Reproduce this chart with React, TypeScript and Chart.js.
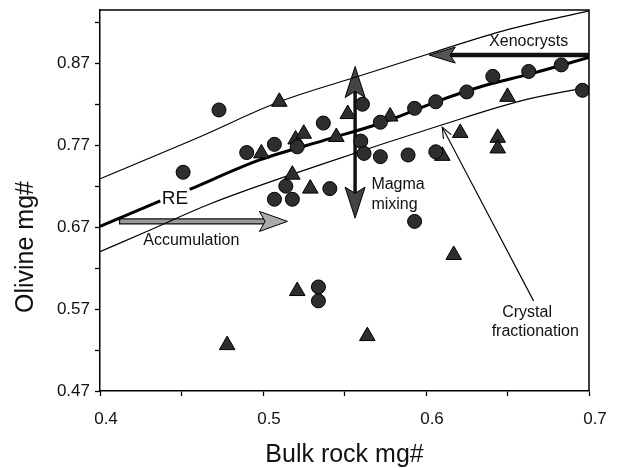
import React, { useEffect, useRef } from 'react';
import { Chart, registerables } from 'chart.js';
Chart.register(...registerables);

// ---- data ----
const circleBulk = [0.473, 0.451, 0.490, 0.507, 0.521, 0.537, 0.507, 0.514, 0.518, 0.541, 0.534, 0.534, 0.561, 0.572, 0.560, 0.562, 0.572, 0.589, 0.606, 0.593, 0.606, 0.625, 0.641, 0.663, 0.683, 0.696, 0.593];
const circleOlivine = [0.813, 0.737, 0.761, 0.771, 0.768, 0.797, 0.704, 0.720, 0.704, 0.717, 0.597, 0.580, 0.820, 0.798, 0.775, 0.760, 0.756, 0.758, 0.762, 0.815, 0.823, 0.835, 0.854, 0.860, 0.868, 0.837, 0.677];

const triangleBulk = [0.510, 0.499, 0.520, 0.525, 0.518, 0.529, 0.545, 0.552, 0.578, 0.610, 0.621, 0.650, 0.644, 0.644, 0.478, 0.521, 0.564, 0.617];
const triangleOlivine = [0.823, 0.760, 0.777, 0.784, 0.734, 0.717, 0.780, 0.808, 0.805, 0.757, 0.785, 0.829, 0.779, 0.766, 0.526, 0.592, 0.537, 0.636];

const upperBulk = [0.400, 0.461, 0.510, 0.560, 0.601, 0.650, 0.700];
const upperOlivine = [0.729, 0.780, 0.823, 0.855, 0.881, 0.911, 0.934];

const reLeftBulk = [0.400, 0.437];
const reLeftOlivine = [0.671, 0.702];
const reRightBulk = [0.455, 0.498, 0.541, 0.574, 0.609, 0.633, 0.664, 0.700];
const reRightOlivine = [0.716, 0.752, 0.778, 0.798, 0.825, 0.841, 0.857, 0.877];

const lowerBulk = [0.400, 0.429, 0.467, 0.535, 0.610, 0.660, 0.700];
const lowerOlivine = [0.640, 0.665, 0.698, 0.746, 0.795, 0.825, 0.841];

const xTickValues = [0.4, 0.45, 0.5, 0.55, 0.6, 0.65, 0.7];
const xTickLabels = ['0.4', '', '0.5', '', '0.6', '', '0.7'];
const yTickValues = [0.47, 0.52, 0.57, 0.62, 0.67, 0.72, 0.77, 0.82, 0.87, 0.92];
const yTickLabels = ['0.47', '', '0.57', '', '0.67', '', '0.77', '', '0.87', ''];

const xTitle = 'Bulk rock mg#';
const yTitle = 'Olivine mg#';

// annotation arrows (data coordinates)
const xenoArrow = { from: [0.700, 0.880], to: [0.602, 0.880] };
const accumArrow = { from: [0.412, 0.677], to: [0.515, 0.677] };
const mixingArrow = { x: 0.5565, low: 0.681, high: 0.866 };
const fractArrow = { from: [0.666, 0.580], to: [0.610, 0.792] };

const labels = [
  { text: 'Xenocrysts', x: 0.663, y: 0.897, size: 16, align: 'center' },
  { text: 'RE', x: 0.446, y: 0.705, size: 19, align: 'center' },
  { text: 'Accumulation', x: 0.456, y: 0.653, size: 16, align: 'center' },
  { text: 'Magma', x: 0.5665, y: 0.722, size: 16, align: 'left' },
  { text: 'mixing', x: 0.5665, y: 0.698, size: 16, align: 'left' },
  { text: 'Crystal', x: 0.662, y: 0.566, size: 16, align: 'center' },
  { text: 'fractionation', x: 0.667, y: 0.542, size: 16, align: 'center' },
];

const FONT = "'Liberation Sans', Arial, Helvetica, sans-serif";

const zip = (xs: number[], ys: number[]) => xs.map((x, i) => ({ x, y: ys[i] }));

function drawHead(ctx: CanvasRenderingContext2D, tx: number, ty: number, ang: number, len: number, half: number, fill: string) {
  const bx = tx - Math.cos(ang) * len;
  const by = ty - Math.sin(ang) * len;
  const nx = -Math.sin(ang), ny = Math.cos(ang);
  ctx.beginPath();
  ctx.moveTo(tx, ty);
  ctx.lineTo(bx + nx * half, by + ny * half);
  ctx.lineTo(bx + Math.cos(ang) * len * 0.2, by + Math.sin(ang) * len * 0.2);
  ctx.lineTo(bx - nx * half, by - ny * half);
  ctx.closePath();
  ctx.fillStyle = fill;
  ctx.fill();
  ctx.lineWidth = 1;
  ctx.strokeStyle = '#000';
  ctx.stroke();
}

const annotPlugin = {
  id: 'annot',
  beforeDatasetsDraw(chart: any) {
    const { ctx, scales } = chart;
    const px = (v: number) => scales.x.getPixelForValue(v);
    const py = (v: number) => scales.y.getPixelForValue(v);
    ctx.save();
    ctx.lineCap = 'butt';
    // Xenocrysts arrow
    {
      const x1 = px(xenoArrow.from[0]), y1 = py(xenoArrow.from[1]);
      const x2 = px(xenoArrow.to[0]), y2 = py(xenoArrow.to[1]);
      ctx.beginPath();
      ctx.moveTo(x1, y1);
      ctx.lineTo(x2 + 20, y2);
      ctx.lineWidth = 4.5;
      ctx.strokeStyle = '#111';
      ctx.stroke();
      drawHead(ctx, x2, y2, Math.PI, 26, 8, '#555');
    }
    // Accumulation arrow
    {
      const x1 = px(accumArrow.from[0]), y1 = py(accumArrow.from[1]);
      const x2 = px(accumArrow.to[0]);
      ctx.beginPath();
      ctx.rect(x1, y1 - 2.5, x2 - 22 - x1, 5);
      ctx.fillStyle = '#9a9a9a';
      ctx.fill();
      ctx.lineWidth = 1.3;
      ctx.strokeStyle = '#111';
      ctx.stroke();
      drawHead(ctx, x2, y1, 0, 28, 10, '#aaa');
    }
    // Magma mixing double arrow
    {
      const x = px(mixingArrow.x);
      const yt = py(mixingArrow.high), yb = py(mixingArrow.low);
      ctx.beginPath();
      ctx.moveTo(x, yt + 20);
      ctx.lineTo(x, yb - 20);
      ctx.lineWidth = 3.5;
      ctx.strokeStyle = '#111';
      ctx.stroke();
      drawHead(ctx, x, yt, -Math.PI / 2, 31, 10, '#444');
      drawHead(ctx, x, yb, Math.PI / 2, 31, 10, '#444');
    }
    // Crystal fractionation leader
    {
      const x1 = px(fractArrow.from[0]), y1 = py(fractArrow.from[1]);
      const x2 = px(fractArrow.to[0]), y2 = py(fractArrow.to[1]);
      ctx.beginPath();
      ctx.moveTo(x1, y1);
      ctx.lineTo(x2, y2);
      ctx.lineWidth = 1.1;
      ctx.strokeStyle = '#000';
      ctx.stroke();
      const ang = Math.atan2(y2 - y1, x2 - x1);
      const len = 11, half = 4.5;
      const bx = x2 - Math.cos(ang) * len, by = y2 - Math.sin(ang) * len;
      const nx = -Math.sin(ang), ny = Math.cos(ang);
      ctx.beginPath();
      ctx.moveTo(bx + nx * half, by + ny * half);
      ctx.lineTo(x2, y2);
      ctx.lineTo(bx - nx * half, by - ny * half);
      ctx.stroke();
    }
    ctx.restore();
  },
  afterDatasetsDraw(chart: any) {
    const { ctx, scales } = chart;
    const px = (v: number) => scales.x.getPixelForValue(v);
    const py = (v: number) => scales.y.getPixelForValue(v);
    ctx.save();
    ctx.fillStyle = '#111';
    ctx.textBaseline = 'middle';
    for (const l of labels) {
      ctx.font = `${l.size}px ${FONT}`;
      ctx.textAlign = l.align as CanvasTextAlign;
      ctx.fillText(l.text, px(l.x), py(l.y));
    }
    ctx.restore();
  },
  afterDraw(chart: any) {
    const { ctx, chartArea } = chart;
    const { left, right, top, bottom } = chartArea;
    ctx.save();
    ctx.strokeStyle = '#000';
    ctx.lineWidth = 1.5;
    ctx.beginPath();
    ctx.moveTo(left, top);
    ctx.lineTo(right, top);
    ctx.lineTo(right, bottom);
    ctx.stroke();
    // axis titles
    ctx.fillStyle = '#111';
    ctx.font = `25px ${FONT}`;
    ctx.textAlign = 'center';
    ctx.textBaseline = 'alphabetic';
    ctx.fillText(xTitle, (left + right) / 2, 462);
    ctx.translate(33, 247);
    ctx.rotate(-Math.PI / 2);
    ctx.fillText(yTitle, 0, 0);
    ctx.restore();
  },
};

export default function App() {
  const ref = useRef<HTMLCanvasElement>(null);
  useEffect(() => {
    const canvas = ref.current!;
    Chart.defaults.font.family = FONT;
    const pointStyle = {
      backgroundColor: '#2e2e2e',
      borderColor: '#000',
      borderWidth: 1,
      showLine: false,
      order: 0,
    };
    const lineStyle = {
      showLine: true,
      pointRadius: 0,
      borderColor: '#000',
      backgroundColor: '#000',
      cubicInterpolationMode: 'monotone',
      order: 1,
    };
    const chart = new Chart(canvas, {
      type: 'scatter',
      data: {
        datasets: [
          { label: 'circles', data: zip(circleBulk, circleOlivine), pointStyle: 'circle', pointRadius: 7, ...pointStyle },
          { label: 'triangles', data: zip(triangleBulk, triangleOlivine), pointStyle: 'triangle', pointRadius: 9, ...pointStyle },
          { label: 'upper', data: zip(upperBulk, upperOlivine), borderWidth: 1.2, ...lineStyle },
          { label: 'RE1', data: zip(reLeftBulk, reLeftOlivine), borderWidth: 3, ...lineStyle },
          { label: 'RE2', data: zip(reRightBulk, reRightOlivine), borderWidth: 3, ...lineStyle },
          { label: 'lower', data: zip(lowerBulk, lowerOlivine), borderWidth: 1.2, ...lineStyle },
        ] as any,
      },
      options: {
        animation: false,
        responsive: true,
        maintainAspectRatio: false,
        layout: { padding: { top: 7, right: 33, left: 0, bottom: 0 } },
        plugins: { legend: { display: false }, tooltip: { enabled: false } },
        events: [],
        scales: {
          x: {
            type: 'linear',
            min: 0.4,
            max: 0.7,
            afterBuildTicks: (s: any) => { s.ticks = xTickValues.map((v) => ({ value: v })); },
            afterFit: (s: any) => { s.height = 77; s.paddingLeft = 0; s.paddingRight = 0; },
            grid: { drawOnChartArea: false, drawTicks: true, tickLength: 5, tickColor: '#000', tickWidth: 1.3 },
            border: { display: true, color: '#000', width: 1.5 },
            ticks: {
              autoSkip: false,
              maxRotation: 0,
              padding: 13,
              labelOffset: 6,
              color: '#111',
              font: { size: 17, family: FONT },
              callback: (_v: any, i: number) => xTickLabels[i],
            },
          },
          y: {
            type: 'linear',
            min: 0.47,
            max: 0.935,
            afterBuildTicks: (s: any) => { s.ticks = yTickValues.map((v) => ({ value: v })); },
            afterFit: (s: any) => { s.width = 100; s.paddingTop = 0; s.paddingBottom = 0; },
            grid: { drawOnChartArea: false, drawTicks: true, tickLength: 5, tickColor: '#000', tickWidth: 1.3 },
            border: { display: true, color: '#000', width: 1.5 },
            ticks: {
              autoSkip: false,
              padding: 5,
              color: '#111',
              font: { size: 17, family: FONT },
              callback: (_v: any, i: number) => yTickLabels[i],
            },
          },
        },
      } as any,
      plugins: [annotPlugin],
    });
    return () => chart.destroy();
  }, []);
  return (
    <div style={{ position: 'fixed', left: 0, top: 0, width: 622, height: 468, background: '#fff' }}>
      <canvas ref={ref} />
    </div>
  );
}
